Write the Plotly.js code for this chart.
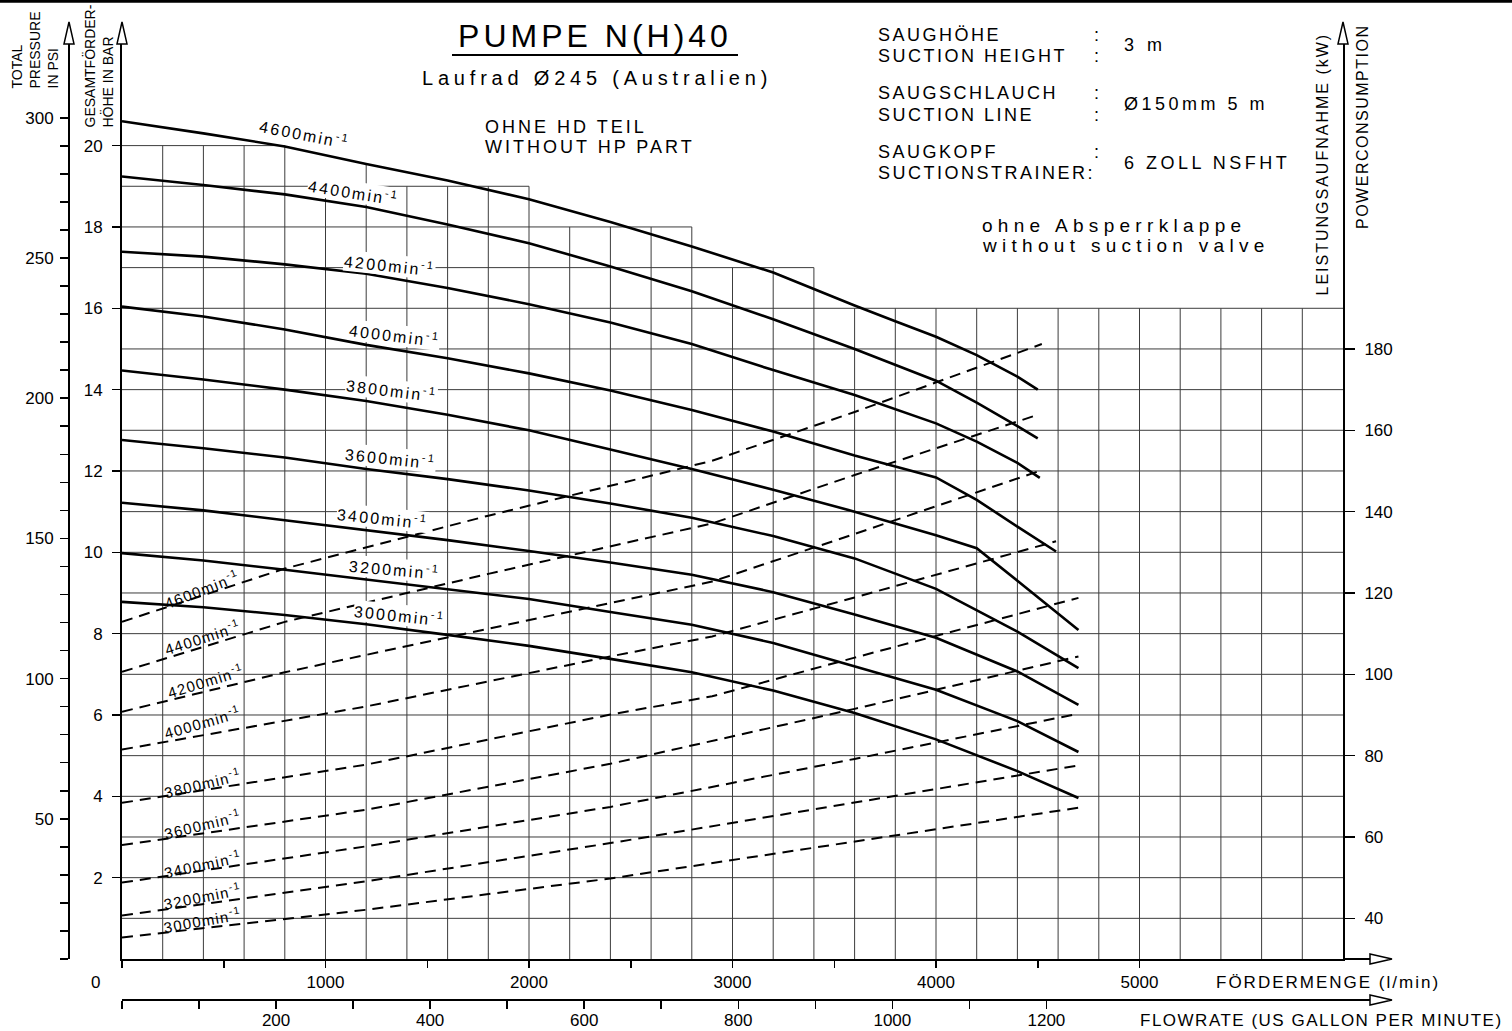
<!DOCTYPE html>
<html>
<head>
<meta charset="utf-8">
<script src="https://cdn.plot.ly/plotly-3.0.1.min.js"></script>
<style>html,body{margin:0;padding:0;background:#fff}#chart{width:1512px;height:1031px}</style>
</head>
<body>
<div id="chart"></div>
<script>
// ---------------- DATA ----------------
// speeds (min^-1)
const speeds = [4600, 4400, 4200, 4000, 3800, 3600, 3400, 3200, 3000];

// head curves: flow (l/min) -> total head (bar)
const headFlow4600 = [0, 400, 800, 1200, 1600, 2000, 2400, 2800, 3200, 3400, 3600, 3800, 4000, 4200, 4400, 4500];
const headBar4600  = [20.6, 20.3, 19.98, 19.55, 19.14, 18.68, 18.12, 17.52, 16.88, 16.47, 16.07, 15.68, 15.3, 14.85, 14.32, 14.0];
const headFlow4400 = [0, 400, 800, 1200, 1600, 2000, 2400, 2800, 3200, 3600, 4000, 4200, 4400, 4500];
const headBar4400  = [19.24, 19.03, 18.8, 18.49, 18.06, 17.6, 17.03, 16.42, 15.73, 15.0, 14.22, 13.68, 13.1, 12.8];
const headFlow4200 = [0, 400, 800, 1200, 1600, 2000, 2400, 2800, 3200, 3600, 4000, 4200, 4400, 4510];
const headBar4200  = [17.39, 17.27, 17.08, 16.85, 16.5, 16.1, 15.65, 15.12, 14.48, 13.87, 13.17, 12.72, 12.2, 11.83];
const headFlow4000 = [0, 400, 800, 1200, 1600, 2000, 2400, 2800, 3200, 3600, 4000, 4200, 4400, 4590];
const headBar4000  = [16.04, 15.8, 15.48, 15.1, 14.77, 14.4, 13.98, 13.5, 12.97, 12.38, 11.84, 11.29, 10.63, 10.02];
const headFlow3800 = [0, 400, 800, 1200, 1600, 2000, 2400, 2800, 3200, 3600, 4000, 4200, 4400, 4600, 4700];
const headBar3800  = [14.47, 14.25, 14.0, 13.72, 13.38, 13.0, 12.53, 12.05, 11.54, 11.0, 10.42, 10.1, 9.3, 8.5, 8.09];
const headFlowLow  = [0, 400, 800, 1200, 1600, 2000, 2400, 2800, 3200, 3600, 4000, 4400, 4700];
const headBar3600  = [12.76, 12.56, 12.33, 12.05, 11.8, 11.52, 11.2, 10.85, 10.4, 9.85, 9.1, 8.05, 7.15];
const headBar3400  = [11.22, 11.03, 10.79, 10.55, 10.3, 10.03, 9.75, 9.45, 9.02, 8.47, 7.9, 7.07, 6.25];
const headBar3200  = [9.98, 9.8, 9.57, 9.33, 9.1, 8.85, 8.53, 8.22, 7.77, 7.2, 6.62, 5.85, 5.09];
const headBar3000  = [8.78, 8.65, 8.46, 8.23, 7.97, 7.7, 7.38, 7.05, 6.6, 6.05, 5.4, 4.62, 3.96];

// power curves: flow (l/min) -> power consumption (kW)
const powFlow4600 = [0, 400, 800, 1800, 2900, 3600, 4520];
const powKw4600   = [112.9, 119.5, 126.0, 139.0, 152.5, 164.5, 181.2];
const powFlow4400 = [0, 800, 1800, 2900, 3600, 4500];
const powKw4400   = [100.6, 112.9, 124.7, 137.1, 149.0, 163.8];
const powFlow4200 = [0, 800, 1800, 2900, 3600, 4520];
const powKw4200   = [90.8, 100.5, 111.2, 122.8, 134.5, 150.2];
const powFlow4000 = [0, 1200, 2400, 2900, 3600, 4590];
const powKw4000   = [81.5, 92.1, 104.4, 109.3, 118.9, 132.7];
const powFlow3800 = [0, 1200, 2400, 2900, 3600, 4700];
const powKw3800   = [68.4, 77.8, 90.1, 94.6, 104.1, 118.8];
const powFlowLow  = [0, 1200, 2400, 3600, 4700];
const powKw3600   = [58.0, 66.7, 78.0, 91.5, 104.4];
const powKw3400   = [48.8, 57.7, 67.4, 79.2, 90.3];
const powKw3200   = [40.7, 49.1, 58.5, 68.5, 77.6];
const powKw3000   = [35.3, 42.1, 49.8, 58.9, 67.2];

// axis ticks
const flowTicks   = [0, 500, 1000, 1500, 2000, 2500, 3000, 3500, 4000, 4500, 5000];
const flowLabels  = ['', '', '1000', '', '2000', '', '3000', '', '4000', '', '5000'];
const gpmTicks    = [0, 100, 200, 300, 400, 500, 600, 700, 800, 900, 1000, 1100, 1200];
const gpmLabels   = ['', '', '200', '', '400', '', '600', '', '800', '', '1000', '', '1200'];
const barTicks    = [2, 4, 6, 8, 10, 12, 14, 16, 18, 20];
const kwTicks     = [40, 60, 80, 100, 120, 140, 160, 180];
const psiTicks    = [0,10,20,30,40,50,60,70,80,90,100,110,120,130,140,150,160,170,180,190,200,210,220,230,240,250,260,270,280,290,300];
const psiLabels   = psiTicks.map(v => (v > 0 && v % 50 === 0) ? String(v) : '');

// unit relations
const PSI_PER_BAR = 14.5038;
const LPM_PER_GPM = 3.785411784;
const KW_OFFSET = 30, KW_PER_BAR = 10;   // right axis scale relative to bar axis

// ---------------- LAYOUT GEOMETRY ----------------
const W = 1512, H = 1031;
const X0 = 122, X1 = 1343, Y0 = 959;
const QMAX = 6000, BMAX = 22.5;
const BAR_PX = 40.67;
const Y1 = Y0 - BMAX * BAR_PX;
const px = x => x / W, py = y => 1 - y / H;
const FONT = 'Liberation Sans, Arial, sans-serif';
const ls = (t, s) => `<span style="letter-spacing:${s}px">${t}</span>`;

// stepped grid (top level of grid by flow region)
const GRID_DQ = 200;
const stairs = [[800, 20], [2000, 19], [2800, 18], [3400, 17], [6000, 16]];
const gridExtra = {q: 1200, top: 19.55};
const topAt = q => { if (q === gridExtra.q) return gridExtra.top; for (const [qe, lv] of stairs) if (q <= qe) return lv; return 16; };
const endAt = b => { let e = 0; for (const [qe, lv] of stairs) if (lv >= b) e = qe; return e; };
const gx = [], gy = [];
for (let q = GRID_DQ; q < QMAX; q += GRID_DQ) { gx.push(q, q, null); gy.push(0, topAt(q), null); }
for (let b = 1; b <= 20; b++) { gx.push(0, endAt(b), null); gy.push(b, b, null); }

const heads = [
  [headFlow4600, headBar4600], [headFlow4400, headBar4400], [headFlow4200, headBar4200],
  [headFlow4000, headBar4000], [headFlow3800, headBar3800], [headFlowLow, headBar3600],
  [headFlowLow, headBar3400], [headFlowLow, headBar3200], [headFlowLow, headBar3000]
];
const powers = [
  [powFlow4600, powKw4600], [powFlow4400, powKw4400], [powFlow4200, powKw4200],
  [powFlow4000, powKw4000], [powFlow3800, powKw3800], [powFlowLow, powKw3600],
  [powFlowLow, powKw3400], [powFlowLow, powKw3200], [powFlowLow, powKw3000]
];

const traces = [];
traces.push({x: gx, y: gy, xaxis: 'x', yaxis: 'y', mode: 'lines', line: {color: '#3c3c3c', width: 1}, hoverinfo: 'skip', showlegend: false});
powers.forEach(([q, p]) => traces.push({x: q, y: p, xaxis: 'x', yaxis: 'y2', mode: 'lines',
  line: {color: '#000', width: 2, dash: '11px,7px'}, hoverinfo: 'skip', showlegend: false}));
heads.forEach(([q, h]) => traces.push({x: q, y: h, xaxis: 'x', yaxis: 'y', mode: 'lines',
  line: {color: '#000', width: 2.6}, hoverinfo: 'skip', showlegend: false}));
// carriers so the secondary scales exist
traces.push({x: [0, QMAX / LPM_PER_GPM], y: [null, null], xaxis: 'x2', yaxis: 'y', mode: 'lines', hoverinfo: 'skip', showlegend: false});
traces.push({x: [null, null], y: [0, BMAX * PSI_PER_BAR], xaxis: 'x', yaxis: 'y3', mode: 'lines', hoverinfo: 'skip', showlegend: false});

// curve label placement (flow, bar, angle)
const headLabelPos = [[899, 20.28, 11], [1140, 18.86, 9], [1316, 17.06, 6], [1341, 15.34, 7], [1326, 13.99, 7],
                      [1321, 12.32, 6], [1282, 10.84, 6], [1341, 9.59, 5], [1365, 8.46, 6]];
const powLabelPos  = [[393, 9.12, -21], [398, 7.92, -18], [408, 6.86, -17], [398, 5.83, -16], [398, 4.35, -13.5],
                      [398, 3.34, -13.5], [398, 2.36, -12], [398, 1.57, -11], [398, 0.96, -10]];

const ann = [];
const T = (text, x, y, o = {}) => Object.assign({text, x: px(x), y: py(y), xref: 'paper', yref: 'paper', showarrow: false,
  xanchor: 'left', yanchor: 'middle', font: {family: FONT, size: 18, color: '#000'}}, o);

speeds.forEach((s, i) => {
  const [q, b, a] = headLabelPos[i];
  ann.push({text: ls(`${s}min<sup>-1</sup>`, 2.2), x: q, y: b, xref: 'x', yref: 'y', showarrow: false, textangle: a,
    xanchor: 'center', yanchor: 'middle', bgcolor: '#fff', borderpad: 0, font: {family: FONT, size: 16, color: '#000'}});
  const [q2, b2, a2] = powLabelPos[i];
  ann.push({text: ls(`${s}min<sup>-1</sup>`, 1.3), x: q2, y: b2, xref: 'x', yref: 'y', showarrow: false, textangle: a2,
    xanchor: 'center', yanchor: 'middle', font: {family: FONT, size: 15, color: '#000'}});
});

ann.push(T(ls('Laufrad Ø245 (Australien)', 4.8), 597, 78, {xanchor: 'center', font: {family: FONT, size: 20, color: '#000'}}));
ann.push(T(ls('OHNE HD TEIL', 3), 483, 127));
ann.push(T(ls('WITHOUT HP PART', 3), 483, 147));
ann.push(T(ls('SAUGHÖHE', 2.5), 876, 35));
ann.push(T(ls('SUCTION HEIGHT', 2.5), 876, 56));
ann.push(T(':', 1092, 35)); ann.push(T(':', 1092, 56));
ann.push(T(ls('3 m', 4), 1122, 45));
ann.push(T(ls('SAUGSCHLAUCH', 2.5), 876, 93));
ann.push(T(ls('SUCTION LINE', 2.5), 876, 115));
ann.push(T(':', 1092, 93)); ann.push(T(':', 1092, 115));
ann.push(T(ls('Ø150mm 5 m', 3.5), 1122, 104));
ann.push(T(ls('SAUGKOPF', 2.5), 876, 152));
ann.push(T(ls('SUCTIONSTRAINER:', 2.5), 876, 173));
ann.push(T(':', 1092, 152));
ann.push(T(ls('6 ZOLL NSFHT', 3.5), 1122, 163));
ann.push(T(ls('ohne Absperrklappe', 5.3), 980, 225, {font: {family: FONT, size: 19, color: '#000'}}));
ann.push(T(ls('without suction valve', 5.3), 980, 245, {font: {family: FONT, size: 19, color: '#000'}}));
ann.push(T('TOTAL<br>PRESSURE<br>IN PSI', 35, 91, {textangle: -90, xanchor: 'center', yanchor: 'bottom', align: 'left', font: {family: FONT, size: 14, color: '#000'}}));
ann.push(T('GESAMTFÖRDER-<br>HÖHE IN BAR', 98, 130, {textangle: -90, xanchor: 'center', yanchor: 'bottom', align: 'left', font: {family: FONT, size: 14, color: '#000'}}));
ann.push(T(ls('LEISTUNGSAUFNAHME (kW)', 2), 1322, 298, {textangle: -90, xanchor: 'center', yanchor: 'bottom', font: {family: FONT, size: 16, color: '#000'}}));
ann.push(T(ls('POWERCONSUMPTION', 1.5), 1363, 231, {textangle: -90, xanchor: 'center', yanchor: 'bottom', font: {family: FONT, size: 16, color: '#000'}}));
ann.push(T(ls('FÖRDERMENGE (l/min)', 2), 1442, 982, {xanchor: 'right', font: {family: FONT, size: 17, color: '#000'}}));
ann.push(T(ls('FLOWRATE (US GALLON PER MINUTE)', 1.5), 1505, 1020, {xanchor: 'right', font: {family: FONT, size: 17, color: '#000'}}));
ann.push(T('0', 95, 982, {xanchor: 'center', font: {family: FONT, size: 17, color: '#000'}}));

// decorations: border, underline, axis arrows
const shapes = [];
const P = (x, y) => `${px(x)},${py(y)}`;
shapes.push({type: 'line', xref: 'paper', yref: 'paper', x0: 0, x1: 1, y0: py(1.2), y1: py(1.2), line: {color: '#000', width: 3}});
shapes.push({type: 'line', xref: 'paper', yref: 'paper', x0: px(452), x1: px(738), y0: py(55), y1: py(55), line: {color: '#000', width: 2}});
[69, X0, X1].forEach(ax => shapes.push({type: 'path', xref: 'paper', yref: 'paper',
  path: `M${P(ax - 5, Y1)} L${P(ax, 22)} L${P(ax + 5, Y1)} Z`, fillcolor: '#fff', line: {color: '#000', width: 1.5}}));
[Y0, 1000].forEach(ay => {
  shapes.push({type: 'line', xref: 'paper', yref: 'paper', x0: px(X1), x1: px(1370), y0: py(ay), y1: py(ay), line: {color: '#000', width: 2}});
  shapes.push({type: 'path', xref: 'paper', yref: 'paper', path: `M${P(1370, ay - 5)} L${P(1392, ay)} L${P(1370, ay + 5)} Z`,
    fillcolor: '#fff', line: {color: '#000', width: 1.5}});
});

const tf = {family: FONT, size: 17, color: '#000'};
const axBase = {showgrid: false, zeroline: false, showline: true, linecolor: '#000', linewidth: 2,
  ticks: 'outside', tickcolor: '#000', tickwidth: 1.5, tickmode: 'array', tickfont: tf, fixedrange: true};

const layout = {
  width: W, height: H, margin: {l: 0, r: 0, t: 0, b: 0},
  paper_bgcolor: '#fff', plot_bgcolor: 'rgba(0,0,0,0)', showlegend: false,
  title: {text: ls('PUMPE N(H)40', 4), x: px(595), xanchor: 'center', y: py(36), yanchor: 'middle',
          font: {family: FONT, size: 32, color: '#000'}},
  xaxis: Object.assign({}, axBase, {domain: [px(X0), px(X1)], range: [0, QMAX], anchor: 'y',
          ticklen: 7, tickvals: flowTicks, ticktext: flowLabels, ticklabelstandoff: 0}),
  xaxis2: Object.assign({}, axBase, {overlaying: 'x', anchor: 'free', position: py(1000), side: 'bottom',
          range: [0, QMAX / LPM_PER_GPM], ticklen: 8, tickvals: gpmTicks, ticktext: gpmLabels, ticklabelstandoff: -3}),
  yaxis: Object.assign({}, axBase, {domain: [py(Y0), py(Y1)], range: [0, BMAX], anchor: 'x', side: 'left',
          ticklen: 8, tickvals: barTicks, ticktext: barTicks.map(String), ticklabelstandoff: 6}),
  yaxis2: Object.assign({}, axBase, {overlaying: 'y', anchor: 'x', side: 'right',
          range: [KW_OFFSET, KW_OFFSET + KW_PER_BAR * BMAX], ticklen: 10, tickvals: kwTicks, ticktext: kwTicks.map(String), ticklabelstandoff: 6}),
  yaxis3: Object.assign({}, axBase, {overlaying: 'y', anchor: 'free', position: px(69), side: 'left',
          range: [0, BMAX * PSI_PER_BAR], ticklen: 8, tickvals: psiTicks, ticktext: psiLabels, ticklabelstandoff: 3}),
  annotations: ann,
  shapes: shapes
};

Plotly.newPlot('chart', traces, layout, {displayModeBar: false, staticPlot: true});
</script>
</body>
</html>
